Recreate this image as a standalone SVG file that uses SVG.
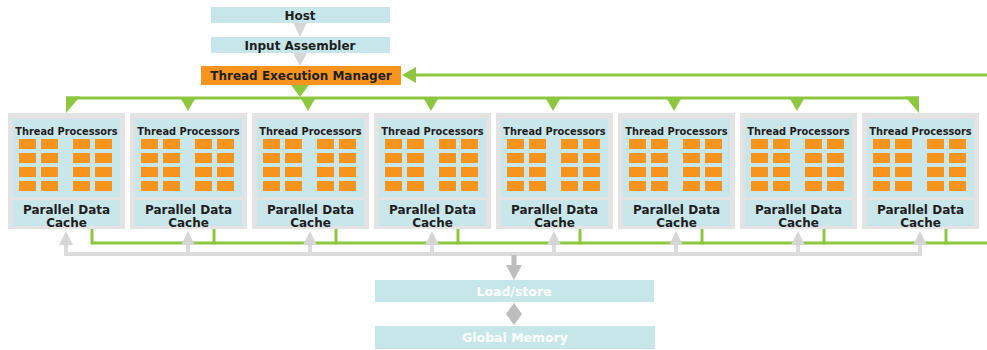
<svg xmlns="http://www.w3.org/2000/svg" xmlns:xlink="http://www.w3.org/1999/xlink" width="987" height="350" viewBox="0 0 987 350">
  <style>
    .bg { fill: #ffffff; }
    .box { fill: #c6e6ea; }
    .tem { fill: #f7941d; }
    .frame { fill: #e3e3e3; }
    .panel { fill: #c9e7eb; }
    .core { fill: #f7941d; }
    .lbl { font-family: "DejaVu Sans", Verdana, sans-serif; font-weight: bold; fill: #1e1e1e; text-anchor: middle; }
    .t12 { font-size: 12px; }
    .t10 { font-size: 9.8px; }
    .mem { font-family: "DejaVu Sans", Verdana, sans-serif; font-weight: bold; font-size: 12.5px; fill: #ffffff; text-anchor: middle; }
    .gline { fill: none; stroke: #8dc63f; stroke-width: 3; }
    .ghead { fill: #8dc63f; }
    .pline { fill: none; stroke: #dcdcdc; stroke-width: 4; }
    .phead { fill: #d6d6d6; }
    .dhead { fill: #bdbdbd; }
  </style>
  <defs>
    <!-- one streaming multiprocessor: frame, core grid, cache panel -->
    <g id="sm">
      <rect class="frame" x="0" y="0" width="117" height="116"/>
      <rect class="panel" x="5" y="6" width="107" height="78"/>
      <rect class="panel" x="5" y="87" width="107" height="26"/>
      <text class="lbl t10" x="58.5" y="22">Thread Processors</text>
      <g class="core">
        <rect x="11" y="26" width="17" height="10"/><rect x="33" y="26" width="17" height="10"/>
        <rect x="65" y="26" width="17" height="10"/><rect x="87" y="26" width="17" height="10"/>
        <rect x="11" y="40" width="17" height="10"/><rect x="33" y="40" width="17" height="10"/>
        <rect x="65" y="40" width="17" height="10"/><rect x="87" y="40" width="17" height="10"/>
        <rect x="11" y="54" width="17" height="10"/><rect x="33" y="54" width="17" height="10"/>
        <rect x="65" y="54" width="17" height="10"/><rect x="87" y="54" width="17" height="10"/>
        <rect x="11" y="68" width="17" height="10"/><rect x="33" y="68" width="17" height="10"/>
        <rect x="65" y="68" width="17" height="10"/><rect x="87" y="68" width="17" height="10"/>
      </g>
      <text class="lbl t12" x="58.5" y="101">Parallel Data</text>
      <text class="lbl t12" x="58.5" y="114">Cache</text>
    </g>
  </defs>

  <rect class="bg" x="0" y="0" width="987" height="350"/>

  <!-- connectors -->
  <g id="connectors">
    <!-- host pipeline -->
    <polygon class="phead" points="293,22 307,22 300,37"/>
    <polygon class="phead" points="293,53 307,53 300,66"/>
    <!-- feedback into the thread execution manager -->
    <line class="gline" x1="414" y1="75" x2="987" y2="75"/>
    <polygon class="ghead" points="402,75 416,67 416,83"/>
    <!-- dispatch bus -->
    <polygon class="ghead" points="291,85 309,85 300,97"/>
    <line class="gline" x1="66" y1="98" x2="919" y2="98"/>
    <polygon class="ghead" points="66,96.5 80,96.5 66,113"/>
    <polygon class="ghead" points="180,97 196,97 188,111"/>
    <polygon class="ghead" points="300,97 316,97 308,111"/>
    <polygon class="ghead" points="423,97 439,97 431,111"/>
    <polygon class="ghead" points="545,97 561,97 553,111"/>
    <polygon class="ghead" points="666,97 682,97 674,111"/>
    <polygon class="ghead" points="789,97 805,97 797,111"/>
    <polygon class="ghead" points="905,96.5 919,96.5 919,113"/>
    <!-- writeback bus -->
    <line class="gline" x1="92" y1="243" x2="987" y2="243"/>
    <g class="gline">
      <line x1="92" y1="229" x2="92" y2="244.5"/>
      <line x1="214" y1="229" x2="214" y2="244.5"/>
      <line x1="336" y1="229" x2="336" y2="244.5"/>
      <line x1="458" y1="229" x2="458" y2="244.5"/>
      <line x1="580" y1="229" x2="580" y2="244.5"/>
      <line x1="702" y1="229" x2="702" y2="244.5"/>
      <line x1="824" y1="229" x2="824" y2="244.5"/>
      <line x1="946" y1="229" x2="946" y2="244.5"/>
    </g>
    <!-- load/store bus -->
    <polyline class="pline" points="66,242 66,254 920,254 920,242"/>
    <g class="pline">
      <line x1="188" y1="242" x2="188" y2="254"/>
      <line x1="310" y1="242" x2="310" y2="254"/>
      <line x1="432" y1="242" x2="432" y2="254"/>
      <line x1="554" y1="242" x2="554" y2="254"/>
      <line x1="676" y1="242" x2="676" y2="254"/>
      <line x1="798" y1="242" x2="798" y2="254"/>
    </g>
    <g class="phead">
      <polygon points="66,231 59,245 73,245"/>
      <polygon points="188,231 181,245 195,245"/>
      <polygon points="310,231 303,245 317,245"/>
      <polygon points="432,231 425,245 439,245"/>
      <polygon points="554,231 547,245 561,245"/>
      <polygon points="676,231 669,245 683,245"/>
      <polygon points="798,231 791,245 805,245"/>
      <polygon points="920,231 913,245 927,245"/>
    </g>
    <line x1="514" y1="255" x2="514" y2="268" stroke="#bdbdbd" stroke-width="5"/>
    <polygon class="dhead" points="506,265 522,265 514,280"/>
    <polygon class="dhead" points="514,303 522,314 514,325 506,314"/>
  </g>

  <g id="host">
    <rect class="box" x="211" y="7" width="179" height="16"/>
    <text class="lbl t12" x="300" y="20">Host</text>
  </g>
  <g id="input-assembler">
    <rect class="box" x="211" y="37" width="179" height="16"/>
    <text class="lbl t12" x="300" y="50">Input Assembler</text>
  </g>
  <g id="thread-execution-manager">
    <rect class="tem" x="201" y="66" width="200" height="19"/>
    <text class="lbl t12" x="301" y="80">Thread Execution Manager</text>
  </g>

  <g id="sm-1"><use xlink:href="#sm" x="8" y="113"/></g>
  <g id="sm-2"><use xlink:href="#sm" x="130" y="113"/></g>
  <g id="sm-3"><use xlink:href="#sm" x="252" y="113"/></g>
  <g id="sm-4"><use xlink:href="#sm" x="374" y="113"/></g>
  <g id="sm-5"><use xlink:href="#sm" x="496" y="113"/></g>
  <g id="sm-6"><use xlink:href="#sm" x="618" y="113"/></g>
  <g id="sm-7"><use xlink:href="#sm" x="740" y="113"/></g>
  <g id="sm-8"><use xlink:href="#sm" x="862" y="113"/></g>

  <g id="load-store">
    <rect class="box" x="375" y="280" width="279" height="22"/>
    <text class="mem" x="514" y="296">Load/store</text>
  </g>
  <g id="global-memory">
    <rect class="box" x="375" y="326" width="280" height="23"/>
    <text class="mem" x="515" y="342">Global Memory</text>
  </g>
</svg>
